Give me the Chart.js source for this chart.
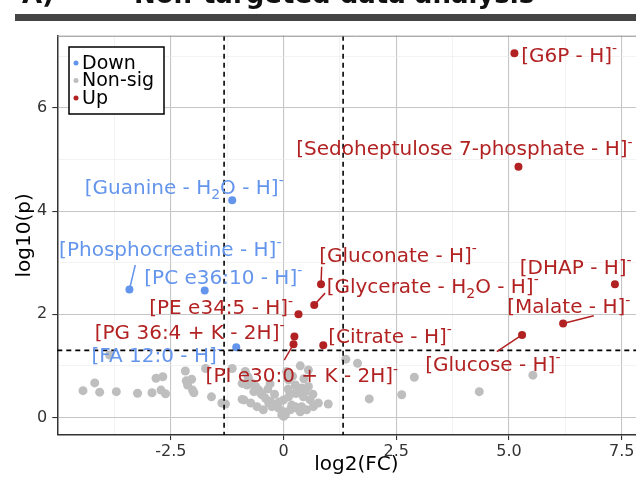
<!DOCTYPE html>
<html>
<head>
<meta charset="utf-8">
<script src="https://cdn.jsdelivr.net/npm/chart.js@4.4.0/dist/chart.umd.min.js"></script>
<style>
  html, body { margin: 0; padding: 0; overflow: hidden; background: #fff; }
  #wrap { width: 660px; height: 477px; }
</style>
</head>
<body>
<div id="wrap"><canvas id="volcano" width="660" height="477"></canvas></div>
<script>
// down-regulated features
const downNames = ['Guanine', 'Phosphocreatine', 'PC e36:10', 'FA 12:0'];
const downIons = ['[Guanine - H_2O - H]^-', '[Phosphocreatine - H]^-', '[PC e36:10 - H]^-', '[FA 12:0 - H]^-'];
const downFC = [-1.14, -3.42, -1.75, -1.05];
const downP = [4.21, 2.48, 2.46, 1.36];

// up-regulated features
const upNames = ['G6P', 'Sedoheptulose 7-phosphate', 'Gluconate', 'Glycerate', 'DHAP', 'PE e34:5',
  'Malate', 'Glucose', 'PG 36:4', 'Citrate', 'PI e30:0'];
const upIons = ['[G6P - H]^-', '[Sedoheptulose 7-phosphate - H]^-', '[Gluconate - H]^-',
  '[Glycerate - H_2O - H]^-', '[DHAP - H]^-', '[PE e34:5 - H]^-', '[Malate - H]^-',
  '[Glucose - H]^-', '[PG 36:4 + K - 2H]^-', '[Citrate - H]^-', '[PI e30:0 + K - 2H]^-'];
const upFC = [5.12, 5.21, 0.83, 0.68, 7.35, 0.33, 6.20, 5.29, 0.24, 0.88, 0.22];
const upP = [7.06, 4.86, 2.58, 2.18, 2.58, 2.00, 1.82, 1.60, 1.57, 1.40, 1.42];

// everything else
const nonsigFC = [
  -3.86, -4.45, -4.19, -4.08, -3.71, -3.24, -2.92, -2.83, -2.68, -2.72, -2.62, -2.18,
  -2.16, -2.04, -2.13, -2.02, -1.99, -1.60, -1.37, -1.29, -1.73, -1.14, -0.92,
  -0.85, -0.79, -0.77, -0.92, -0.88, -0.73, -0.59, -0.66, -0.51, -0.40, -0.29, -0.18,
  -0.11, 0.00, 0.04, 0.00, -0.81, -0.70, -0.55, -0.48, -0.33, -0.26, -0.04, 0.00,
  0.11, 0.26, 0.33, 0.44, 0.26, 0.37, 0.26, 0.40, 0.48, 0.29, 0.18, 0.29, 0.40, 0.51,
  0.66, 0.77, 0.59, 0.37, 0.55, 0.07, 0.11, 0.20, -0.62, -0.35, -0.20, -0.10, 0.15,
  0.55, 0.65, -0.45, 0.10, 0.45, -0.30,
  0.99, 1.90, 1.38, 1.64, 2.90, 2.62, 4.34, 5.53
];
const nonsigP = [
  1.21, 0.52, 0.67, 0.49, 0.50, 0.47, 0.48, 0.76, 0.79, 0.53, 0.46, 0.90,
  0.71, 0.74, 0.63, 0.53, 0.48, 0.40, 0.28, 0.26, 0.95, 0.95, 0.35,
  0.89, 0.79, 0.73, 0.66, 0.34, 0.28, 0.21, 0.50, 0.47, 0.37, 0.31, 0.24,
  0.18, 0.11, 0.05, 0.02, 0.63, 0.66, 0.53, 0.44, 0.28, 0.21, 0.05, 0.34,
  0.40, 0.47, 0.53, 0.40, 0.21, 0.11, 0.63, 0.57, 0.50, 0.47, 0.24, 0.18, 0.21, 0.15,
  0.21, 0.28, 0.34, 1.00, 0.92, 0.89, 0.73, 0.80, 0.60, 0.55, 0.45, 0.30, 0.15,
  0.60, 0.45, 0.15, 0.55, 0.75, 0.65,
  0.26, 0.36, 1.13, 1.05, 0.78, 0.44, 0.50, 0.82
];

// cut-offs: fold change 2.5, p = 0.05
const fcCut = 1.32;
const pCut = 1.301;

// axis ticks
const xTickValues = [-2.5, 0, 2.5, 5, 7.5];
const xTickLabels = ['-2.5', '0', '2.5', '5.0', '7.5'];
const yTickValues = [0, 2, 4, 6];
const yTickLabels = ['0', '2', '4', '6'];
const xMinor = [-3.75, -1.25, 1.25, 3.75, 6.25];
const yMinor = [1, 3, 5, 7];

// where the repelled labels sit (left edge, middle), with optional leader end
const labelPos = {
  'G6P': [5.27, 7.03],
  'Sedoheptulose 7-phosphate': [0.28, 5.22],
  'Gluconate': [0.79, 3.16, 0.845, 2.92],
  'Glycerate': [0.955, 2.55, 0.92, 2.41],
  'DHAP': [5.24, 2.92],
  'PE e34:5': [-2.98, 2.14],
  'Malate': [4.96, 2.16, 6.88, 1.97],
  'Glucose': [3.14, 1.04, 4.73, 1.275],
  'PG 36:4': [-4.19, 1.66],
  'Citrate': [0.99, 1.58],
  'PI e30:0': [-1.73, 0.82, 0.015, 1.11],
  'Guanine': [-4.41, 4.47],
  'Phosphocreatine': [-4.98, 3.28, -3.29, 2.955],
  'PC e36:10': [-3.09, 2.73],
  'FA 12:0': [-4.26, 1.21]
};

const FONT = '"DejaVu Sans", Verdana, sans-serif';
const BLUE = '#6495ED';
const RED = '#B22222';
const GREY = '#BEBEBE';

const pts = (xs, ys) => xs.map((x, i) => ({ x: x, y: ys[i] }));
const isIn = (arr, v) => arr.some(a => Math.abs(a - v) < 1e-6);

// draws text with "_c" subscripts and "^c" superscripts
function drawRich(ctx, text, x, base, size, color) {
  const parts = [];
  let buf = '';
  for (let i = 0; i < text.length; i++) {
    const c = text[i];
    if ((c === '_' || c === '^') && i + 1 < text.length) {
      if (buf) parts.push({ t: buf, k: 0 });
      buf = '';
      parts.push({ t: text[i + 1], k: c === '_' ? -1 : 1 });
      i++;
    } else {
      buf += c;
    }
  }
  if (buf) parts.push({ t: buf, k: 0 });
  ctx.fillStyle = color;
  ctx.textAlign = 'left';
  ctx.textBaseline = 'alphabetic';
  let cx = x;
  for (const p of parts) {
    const s = p.k ? size * 0.7 : size;
    ctx.font = s + 'px ' + FONT;
    const dy = p.k === -1 ? size * 0.25 : p.k === 1 ? -size * 0.44 : 0;
    ctx.fillText(p.t, cx, base + dy);
    cx += ctx.measureText(p.t).width;
  }
}

const decor = {
  id: 'decor',
  beforeDraw(chart) {
    const ctx = chart.ctx;
    ctx.save();
    ctx.fillStyle = '#fff';
    ctx.fillRect(0, 0, chart.width, chart.height);
    // panel heading, mostly cut off at the top
    ctx.fillStyle = '#111';
    ctx.font = 'bold 26px ' + FONT;
    ctx.textBaseline = 'alphabetic';
    ctx.fillText('A)', 22, 3);
    ctx.fillText('Non-targeted data analysis', 134, 3);
    ctx.fillStyle = '#454545';
    ctx.fillRect(15, 14, chart.width, 7);
    ctx.restore();
  },
  afterDatasetsDraw(chart) {
    const ctx = chart.ctx;
    const xs = chart.scales.x, ys = chart.scales.y;
    const a = chart.chartArea;
    ctx.save();
    ctx.beginPath();
    ctx.rect(a.left, a.top, a.right - a.left, a.bottom - a.top);
    ctx.clip();
    // threshold lines
    ctx.strokeStyle = '#000';
    ctx.lineWidth = 1.6;
    ctx.setLineDash([5, 4]);
    [-fcCut, fcCut].forEach(v => {
      const px = xs.getPixelForValue(v);
      ctx.beginPath();
      ctx.moveTo(px, a.top);
      ctx.lineTo(px, a.bottom);
      ctx.stroke();
    });
    const py = ys.getPixelForValue(pCut);
    ctx.beginPath();
    ctx.moveTo(a.left, py);
    ctx.lineTo(a.right, py);
    ctx.stroke();
    ctx.setLineDash([]);
    ctx.restore();

    // labels and leader lines
    ctx.save();
    const groups = [
      [downNames, downIons, downFC, downP, BLUE],
      [upNames, upIons, upFC, upP, RED]
    ];
    groups.forEach(([names, ions, fc, p, col]) => {
      names.forEach((n, i) => {
        const lp = labelPos[n];
        if (!lp) return;
        if (lp.length > 2) {
          ctx.strokeStyle = col;
          ctx.lineWidth = 1.5;
          ctx.beginPath();
          ctx.moveTo(xs.getPixelForValue(fc[i]), ys.getPixelForValue(p[i]));
          ctx.lineTo(xs.getPixelForValue(lp[2]), ys.getPixelForValue(lp[3]));
          ctx.stroke();
        }
        const base = ys.getPixelForValue(lp[1]) + 7.3;
        drawRich(ctx, ions[i], xs.getPixelForValue(lp[0]), base, 20, col);
      });
    });

    // top edge of the panel
    ctx.strokeStyle = '#8a8a8a';
    ctx.lineWidth = 1;
    ctx.beginPath();
    ctx.moveTo(a.left, a.top + 0.5);
    ctx.lineTo(a.right, a.top + 0.5);
    ctx.stroke();

    // legend
    const lx = 69, ly = 47, lw = 95, lh = 67;
    ctx.fillStyle = '#fff';
    ctx.fillRect(lx, ly, lw, lh);
    ctx.strokeStyle = '#000';
    ctx.lineWidth = 1.5;
    ctx.strokeRect(lx, ly, lw, lh);
    const items = [['Down', BLUE], ['Non-sig', GREY], ['Up', RED]];
    items.forEach(([t, c], i) => {
      const cy = 63 + i * 17.5;
      ctx.fillStyle = c;
      ctx.beginPath();
      ctx.arc(76, cy, 2.5, 0, Math.PI * 2);
      ctx.fill();
      ctx.fillStyle = '#000';
      ctx.font = '19px ' + FONT;
      ctx.textBaseline = 'middle';
      ctx.textAlign = 'left';
      ctx.fillText(t, 82, cy + 1);
    });

    // axis titles
    ctx.fillStyle = '#000';
    ctx.font = '20px ' + FONT;
    ctx.textAlign = 'center';
    ctx.textBaseline = 'alphabetic';
    ctx.fillText('log2(FC)', (a.left + a.right) / 2, 470);
    ctx.translate(30, (a.top + a.bottom) / 2);
    ctx.rotate(-Math.PI / 2);
    ctx.fillText('log10(p)', 0, 0);
    ctx.restore();
  }
};

const gridColor = (vals) => (c) => isIn(vals, c.tick.value) ? '#c6c6c6' : '#ebebeb';
const gridWidth = (vals) => (c) => isIn(vals, c.tick.value) ? 1.1 : 0.6;
const tickColor = (vals) => (c) => isIn(vals, c.tick.value) ? '#333' : 'rgba(0,0,0,0)';

new Chart(document.getElementById('volcano'), {
  type: 'scatter',
  data: {
    datasets: [
      { label: 'Non-sig', data: pts(nonsigFC, nonsigP), backgroundColor: GREY, pointRadius: 4.5, borderWidth: 0 },
      { label: 'Down', data: pts(downFC, downP), backgroundColor: BLUE, pointRadius: 4, borderWidth: 0 },
      { label: 'Up', data: pts(upFC, upP), backgroundColor: RED, pointRadius: 4, borderWidth: 0 }
    ]
  },
  options: {
    responsive: false,
    animation: false,
    devicePixelRatio: 1,
    layout: { padding: { top: 35.7, right: 1, left: 0, bottom: 0 } },
    plugins: { legend: { display: false }, tooltip: { enabled: false } },
    scales: {
      x: {
        type: 'linear',
        min: -5.02,
        max: 8.25,
        afterBuildTicks: s => { s.ticks = xMinor.concat(xTickValues).sort((p, q) => p - q).map(v => ({ value: v })); },
        afterFit: s => { s.height = 42; },
        grid: { color: gridColor(xTickValues), lineWidth: gridWidth(xTickValues), tickColor: tickColor(xTickValues), tickLength: 5 },
        border: { color: '#333', width: 1.5 },
        ticks: {
          autoSkip: false,
          maxRotation: 0,
          padding: 2,
          color: '#333',
          font: { family: FONT, size: 16 },
          callback: v => { const k = xTickValues.findIndex(t => Math.abs(t - v) < 1e-6); return k < 0 ? '' : xTickLabels[k]; }
        }
      },
      y: {
        type: 'linear',
        min: -0.34,
        max: 7.40,
        afterBuildTicks: s => { s.ticks = yTickValues.concat(yMinor).sort((p, q) => p - q).map(v => ({ value: v })); },
        afterFit: s => { s.width = 57.3; },
        grid: { color: gridColor(yTickValues), lineWidth: gridWidth(yTickValues), tickColor: tickColor(yTickValues), tickLength: 5 },
        border: { color: '#333', width: 1.5 },
        ticks: {
          autoSkip: false,
          padding: 5,
          color: '#333',
          font: { family: FONT, size: 16 },
          callback: v => { const k = yTickValues.findIndex(t => Math.abs(t - v) < 1e-6); return k < 0 ? '' : yTickLabels[k]; }
        }
      }
    }
  },
  plugins: [decor]
});
</script>
</body>
</html>
